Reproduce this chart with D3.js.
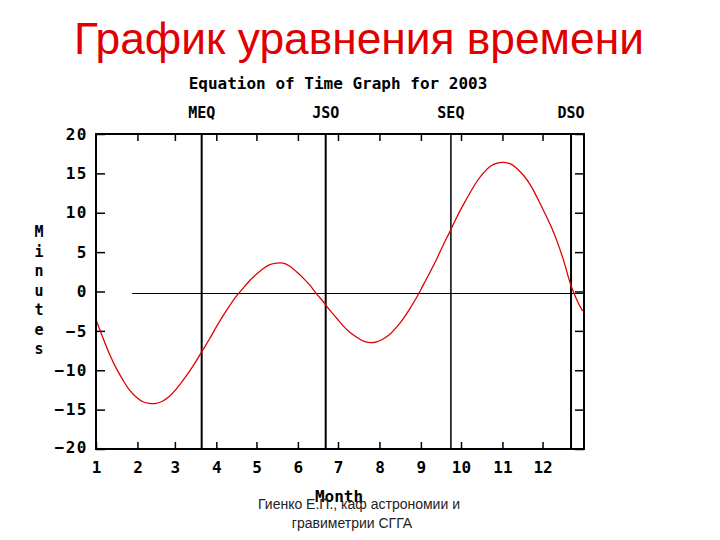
<!DOCTYPE html>
<html lang="ru">
<head>
<meta charset="utf-8" />
<title>График уравнения времени</title>
<script src="https://d3js.org/d3.v7.min.js"></script>
<style>
  body { margin: 0; background: #fff; }
  .mono { font-family: "DejaVu Sans Mono", monospace; font-weight: bold; }
</style>
</head>
<body>
<script>
// equation of time for 2003 (minutes)
const eotDates = [
  "2003-01-01","2003-01-06","2003-01-11","2003-01-16","2003-01-21","2003-01-26","2003-01-31",
  "2003-02-05","2003-02-10","2003-02-15","2003-02-20","2003-02-25",
  "2003-03-02","2003-03-07","2003-03-12","2003-03-17","2003-03-22","2003-03-27",
  "2003-04-01","2003-04-06","2003-04-11","2003-04-16","2003-04-21","2003-04-26",
  "2003-05-01","2003-05-06","2003-05-11","2003-05-16","2003-05-21","2003-05-26","2003-05-31",
  "2003-06-05","2003-06-10","2003-06-15","2003-06-20","2003-06-25","2003-06-30",
  "2003-07-05","2003-07-10","2003-07-15","2003-07-20","2003-07-25","2003-07-30",
  "2003-08-04","2003-08-09","2003-08-14","2003-08-19","2003-08-24","2003-08-29",
  "2003-09-03","2003-09-08","2003-09-13","2003-09-18","2003-09-23","2003-09-28",
  "2003-10-03","2003-10-08","2003-10-13","2003-10-18","2003-10-23","2003-10-28",
  "2003-11-02","2003-11-07","2003-11-12","2003-11-17","2003-11-22","2003-11-27",
  "2003-12-02","2003-12-07","2003-12-12","2003-12-17","2003-12-22","2003-12-27","2003-12-31"
];
const eotMinutes = [
  -3.6, -5.8, -7.9, -9.7, -11.2, -12.5, -13.4,
  -14.0, -14.2, -14.2, -13.9, -13.3,
  -12.4, -11.3, -10.1, -8.8, -7.4, -6.0,
  -4.5, -3.1, -1.8, -0.6, 0.4, 1.4,
  2.2, 2.9, 3.4, 3.6, 3.6, 3.2, 2.5,
  1.7, 0.8, -0.3, -1.3, -2.4, -3.4,
  -4.4, -5.2, -5.8, -6.3, -6.5, -6.4,
  -6.0, -5.4, -4.5, -3.4, -2.1, -0.7,
  0.9, 2.5, 4.2, 6.0, 7.7, 9.5,
  11.1, 12.6, 14.0, 15.1, 15.9, 16.3,
  16.4, 16.2, 15.6, 14.7, 13.5, 11.9,
  10.2, 8.4, 6.3, 3.8, 0.9, -1.2, -2.5
];

// equinoxes and solstices
const seasonLabels = ["MEQ", "JSO", "SEQ", "DSO"];
const seasonTimes = ["2003-03-21T01:00", "2003-06-21T19:10", "2003-09-23T10:47", "2003-12-22T07:04"];

const yTicks = [-20, -15, -10, -5, 0, 5, 10, 15, 20];
const yTitle = "Minutes";
const xTitle = "Month";
const chartTitle = "Equation of Time Graph for 2003";
const pageTitle = "График уравнения времени";
const footerLines = ["Гиенко Е.П., каф астрономии и", "гравиметрии СГГА"];
const zeroLineStart = "2003-01-28";

const W = 720, H = 540;
const plotL = 96, plotR = 584, plotT = 134, plotB = 449;

const parseDay = d3.utcParse("%Y-%m-%d");
const parseTime = d3.utcParse("%Y-%m-%dT%H:%M");

const svg = d3.select("body").append("svg")
  .attr("width", W)
  .attr("height", H)
  .attr("viewBox", `0 0 ${W} ${H}`);

svg.append("rect").attr("width", W).attr("height", H).attr("fill", "#fff");

const x = d3.scaleUtc()
  .domain([Date.UTC(2003, 0, 1), Date.UTC(2004, 0, 1)])
  .range([plotL, plotR]);

const y = d3.scaleLinear()
  .domain([-20, 20])
  .range([plotB, plotT]);

const months = d3.utcMonth.range(new Date(Date.UTC(2003, 0, 1)), new Date(Date.UTC(2004, 0, 1)));

// page heading
svg.append("text")
  .attr("x", 359)
  .attr("y", 54)
  .attr("text-anchor", "middle")
  .attr("font-family", "'Liberation Sans', Arial, sans-serif")
  .attr("font-size", 44.3)
  .attr("fill", "#e00000")
  .text(pageTitle);

// chart title
svg.append("text")
  .attr("class", "mono")
  .attr("x", 338)
  .attr("y", 89)
  .attr("text-anchor", "middle")
  .attr("font-size", 16)
  .text(chartTitle);

// axes (ticks inward)
const xBottom = d3.axisBottom(x).tickValues(months).tickSize(-7).tickPadding(13)
  .tickFormat(d => d.getUTCMonth() + 1);
const xTop = d3.axisTop(x).tickValues(months.slice(1)).tickSize(-7).tickFormat("");
const yLeft = d3.axisLeft(y).tickValues(yTicks).tickSize(-9).tickPadding(8);
const yRight = d3.axisRight(y).tickValues(yTicks).tickSize(-9).tickFormat("");

const gxb = svg.append("g").attr("transform", `translate(0,${plotB})`).call(xBottom);
const gxt = svg.append("g").attr("transform", `translate(0,${plotT})`).call(xTop);
const gyl = svg.append("g").attr("transform", `translate(${plotL},0)`).call(yLeft);
const gyr = svg.append("g").attr("transform", `translate(${plotR},0)`).call(yRight);

[gxb, gxt, gyl, gyr].forEach(g => {
  g.select(".domain").remove();
  g.selectAll(".tick line").attr("stroke", "#000").attr("stroke-width", 1.5);
  g.selectAll(".tick text")
    .attr("class", "mono")
    .attr("font-size", 16)
    .attr("fill", "#000");
});
gyl.selectAll(".tick text").attr("letter-spacing", 1.5);
gyl.select(".tick text").attr("dy", "0.2em"); // -20 sits a bit higher

// zero line
svg.append("line")
  .attr("x1", x(parseDay(zeroLineStart)))
  .attr("x2", plotR)
  .attr("y1", y(0) + 2)
  .attr("y2", y(0) + 2)
  .attr("stroke", "#000")
  .attr("stroke-width", 1);

// equinox / solstice lines
seasonTimes.forEach((t, i) => {
  const sx = x(parseTime(t));
  svg.append("line")
    .attr("x1", sx).attr("x2", sx)
    .attr("y1", plotT).attr("y2", plotB)
    .attr("stroke", "#000")
    .attr("stroke-width", i === 2 ? 1.5 : 2);
  svg.append("text")
    .attr("class", "mono")
    .attr("x", sx)
    .attr("y", 118)
    .attr("text-anchor", "middle")
    .attr("font-size", 15)
    .text(seasonLabels[i]);
});

// curve
const points = eotDates.map((d, i) => [parseDay(d), eotMinutes[i]]);
const line = d3.line()
  .x(d => x(d[0]))
  .y(d => y(d[1]))
  .curve(d3.curveCatmullRom);

svg.append("path")
  .datum(points)
  .attr("d", line)
  .attr("fill", "none")
  .attr("stroke", "#e00000")
  .attr("stroke-width", 1.3);

// frame
svg.append("rect")
  .attr("x", plotL).attr("y", plotT)
  .attr("width", plotR - plotL).attr("height", plotB - plotT)
  .attr("fill", "none")
  .attr("stroke", "#000")
  .attr("stroke-width", 2);

// vertical y title, one letter per row
svg.append("g").selectAll("text")
  .data(yTitle.split(""))
  .join("text")
  .attr("class", "mono")
  .attr("x", 39)
  .attr("y", (d, i) => 237 + i * 19.5)
  .attr("text-anchor", "middle")
  .attr("font-size", 15)
  .text(d => d);

// x title
svg.append("text")
  .attr("class", "mono")
  .attr("x", 339)
  .attr("y", 502)
  .attr("text-anchor", "middle")
  .attr("font-size", 16)
  .text(xTitle);

// footer
svg.append("g").selectAll("text")
  .data(footerLines)
  .join("text")
  .attr("x", (d, i) => i === 0 ? 359 : 352)
  .attr("y", (d, i) => 509 + i * 18.5)
  .attr("text-anchor", "middle")
  .attr("font-family", "'Liberation Sans', Arial, sans-serif")
  .attr("font-size", 14)
  .attr("fill", "#222")
  .text(d => d);
</script>
</body>
</html>
